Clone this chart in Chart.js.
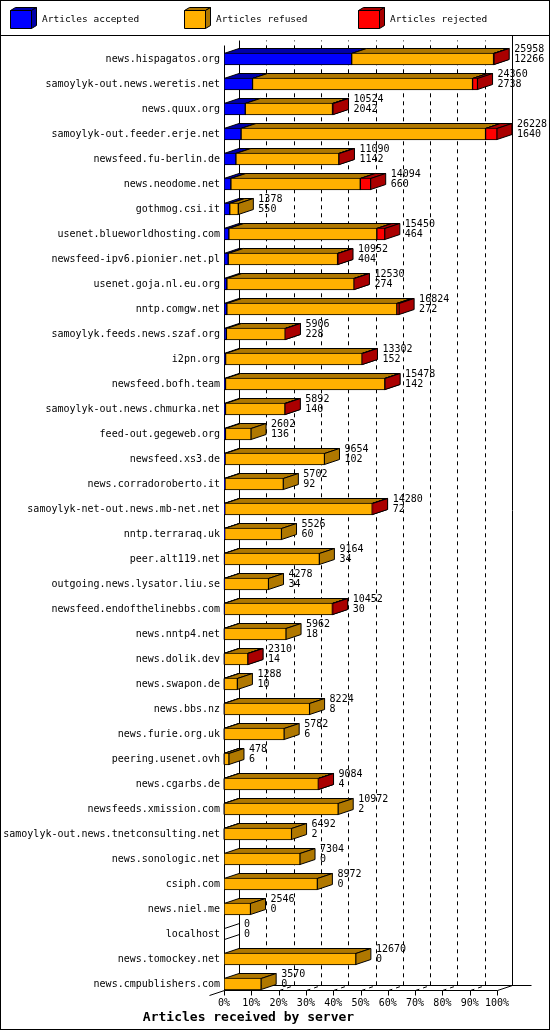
<!DOCTYPE html>
<html>
<head>
<meta charset="utf-8">
<script src="https://cdn.jsdelivr.net/npm/chart.js@4.4.1/dist/chart.umd.min.js"></script>
<style>
  html, body { margin: 0; padding: 0; background: #fff; }
  canvas { display: block; }
</style>
</head>
<body>
<canvas id="feedChart" width="550" height="1030"></canvas>
<script>
// Servers, top to bottom
const hosts = [
  'news.hispagatos.org', 'samoylyk-out.news.weretis.net', 'news.quux.org',
  'samoylyk-out.feeder.erje.net', 'newsfeed.fu-berlin.de', 'news.neodome.net',
  'gothmog.csi.it', 'usenet.blueworldhosting.com', 'newsfeed-ipv6.pionier.net.pl',
  'usenet.goja.nl.eu.org', 'nntp.comgw.net', 'samoylyk.feeds.news.szaf.org',
  'i2pn.org', 'newsfeed.bofh.team', 'samoylyk-out.news.chmurka.net',
  'feed-out.gegeweb.org', 'newsfeed.xs3.de', 'news.corradoroberto.it',
  'samoylyk-net-out.news.mb-net.net', 'nntp.terraraq.uk', 'peer.alt119.net',
  'outgoing.news.lysator.liu.se', 'newsfeed.endofthelinebbs.com', 'news.nntp4.net',
  'news.dolik.dev', 'news.swapon.de', 'news.bbs.nz', 'news.furie.org.uk',
  'peering.usenet.ovh', 'news.cgarbs.de', 'newsfeeds.xmission.com',
  'samoylyk-out.news.tnetconsulting.net', 'news.sonologic.net', 'csiph.com',
  'news.niel.me', 'localhost', 'news.tomockey.net', 'news.cmpublishers.com'
];

// Articles offered (first number beside each bar)
const totalArticles = [
  25958, 24360, 10524, 26228, 11090, 14094, 1378, 15450, 10952, 12530,
  16824, 5906, 13302, 15478, 5892, 2602, 9654, 5702, 14280, 5526,
  9164, 4278, 10452, 5962, 2310, 1288, 8224, 5782, 478, 9084,
  10972, 6492, 7304, 8972, 2546, 0, 12670, 3570
];

// Articles accepted (second number beside each bar)
const acceptedArticles = [
  12266, 2738, 2042, 1640, 1142, 660, 550, 464, 404, 274,
  272, 228, 152, 142, 140, 136, 102, 92, 72, 60,
  34, 34, 30, 18, 14, 10, 8, 6, 6, 4,
  2, 2, 0, 0, 0, 0, 0, 0
];

// Articles rejected (estimated from the red parts)
const rejectedArticles = [
  60, 480, 100, 1100, 60, 1000, 0, 770, 40, 40,
  220, 30, 40, 30, 40, 0, 0, 0, 40, 0,
  0, 0, 40, 0, 20, 0, 0, 0, 0, 20,
  0, 0, 0, 0, 0, 0, 0, 0
];

const refusedArticles = totalArticles.map((t, i) => t - acceptedArticles[i] - rejectedArticles[i]);

const maxTotal = Math.max(...totalArticles);
const toPercent = v => v / maxTotal * 100;

// 3D look
const DX = 15;
const DY = 5;
const BAR = 12;
const darkColors = ['#0000AA', '#B07800', '#AA0000'];
const legendX = [10, 184, 358];
const FONT = 'DejaVu Sans Mono';

Chart.defaults.font.family = FONT;
Chart.defaults.color = '#000';

function poly(ctx, pts, fill) {
  ctx.beginPath();
  pts.forEach((p, i) => i ? ctx.lineTo(p[0], p[1]) : ctx.moveTo(p[0], p[1]));
  ctx.closePath();
  if (fill) {
    ctx.fillStyle = fill;
    ctx.fill();
  }
  ctx.stroke();
}

function line(ctx, pts) {
  ctx.beginPath();
  pts.forEach((p, i) => i ? ctx.lineTo(p[0], p[1]) : ctx.moveTo(p[0], p[1]));
  ctx.stroke();
}

const depthPlugin = {
  id: 'depth3d',
  beforeDraw(chart) {
    const ctx = chart.ctx;
    ctx.save();
    ctx.fillStyle = '#fff';
    ctx.fillRect(0, 0, chart.width, chart.height);
    ctx.restore();
  },
  beforeDatasetsDraw(chart) {
    const ctx = chart.ctx;
    const xs = chart.scales.x;
    const ys = chart.scales.y;
    const n = hosts.length;
    const x0 = Math.round(xs.getPixelForValue(0)) + 0.5;
    const x100 = Math.round(xs.getPixelForValue(100)) + 0.5;
    const yFront = Math.round(ys.getPixelForValue(n - 1) + BAR / 2) + 0.5;
    const yBack = yFront - DY;
    const topFront = Math.round(ys.getPixelForValue(0) - BAR / 2 - 8) + 0.5;
    const topBack = topFront - DY;

    ctx.save();
    ctx.lineWidth = 1;
    ctx.strokeStyle = '#000';

    // dashed grid, running from the front tick to the back wall
    ctx.setLineDash([4, 4]);
    xs.ticks.forEach(t => {
      if (t.value === 0 || t.value === 100) return;
      const px = Math.round(xs.getPixelForValue(t.value)) + 0.5;
      line(ctx, [[px, yFront], [px + DX, yBack], [px + DX, topBack]]);
    });
    ctx.setLineDash([]);

    // back walls
    line(ctx, [[x0 + DX, topBack], [x0 + DX, yBack], [x100 + DX + 19, yBack]]);
    line(ctx, [[x100 + DX, 35.5], [x100 + DX, yBack]]);

    // front axes
    line(ctx, [[x0, topFront], [x0, yFront], [x100, yFront], [x100 + DX, yBack]]);
    line(ctx, [[x0, yFront], [x0 - DX, yFront + DY]]);
    xs.ticks.forEach(t => {
      const px = Math.round(xs.getPixelForValue(t.value)) + 0.5;
      line(ctx, [[px, yFront], [px, yFront + 5]]);
    });

    // top and side faces of every bar segment
    chart.data.datasets.forEach((ds, di) => {
      const meta = chart.getDatasetMeta(di);
      meta.data.forEach(el => {
        const p = el.getProps(['x', 'y', 'base', 'height'], true);
        const x1 = Math.min(p.x, p.base);
        const x2 = Math.max(p.x, p.base);
        if (x2 - x1 < 0.01) return;
        const top = Math.round(p.y - p.height / 2) + 0.5;
        const bottom = Math.round(p.y + p.height / 2) - 0.5;
        poly(ctx, [[x1, top], [x2, top], [x2 + DX, top - DY], [x1 + DX, top - DY]], darkColors[di]);
        poly(ctx, [[x2, top], [x2 + DX, top - DY], [x2 + DX, bottom - DY], [x2, bottom]], darkColors[di]);
      });
    });

    // empty rows still get the outline of a side face
    totalArticles.forEach((t, i) => {
      if (t > 0) return;
      const cy = ys.getPixelForValue(i);
      const top = Math.round(cy - BAR / 2) + 0.5;
      const bottom = Math.round(cy + BAR / 2) - 0.5;
      line(ctx, [[x0, top], [x0 + DX, top - DY]]);
      line(ctx, [[x0, bottom], [x0 + DX, bottom - DY]]);
    });
    ctx.restore();
  },
  afterDatasetsDraw(chart) {
    const ctx = chart.ctx;
    const xs = chart.scales.x;
    const ys = chart.scales.y;
    ctx.save();
    ctx.font = '10px ' + FONT;
    ctx.fillStyle = '#000';
    ctx.textBaseline = 'middle';
    ctx.textAlign = 'left';
    hosts.forEach((h, i) => {
      const xe = xs.getPixelForValue(toPercent(totalArticles[i]));
      const cy = ys.getPixelForValue(i);
      ctx.fillText(String(totalArticles[i]), xe + DX + 5, cy - 9.5);
      ctx.fillText(String(acceptedArticles[i]), xe + DX + 5, cy + 0.5);
    });
    ctx.restore();
  },
  afterDraw(chart) {
    const ctx = chart.ctx;
    ctx.save();
    ctx.lineWidth = 1;
    ctx.strokeStyle = '#000';

    // legend with little 3D boxes
    chart.data.datasets.forEach((ds, i) => {
      const bx = legendX[i] + 0.5;
      const by = 10.5;
      poly(ctx, [[bx, by], [bx + 21, by], [bx + 26, by - 3], [bx + 5, by - 3]], darkColors[i]);
      poly(ctx, [[bx + 21, by], [bx + 26, by - 3], [bx + 26, by + 15], [bx + 21, by + 18]], darkColors[i]);
      poly(ctx, [[bx, by], [bx + 21, by], [bx + 21, by + 18], [bx, by + 18]], ds.backgroundColor);
      ctx.fillStyle = '#000';
      ctx.font = '9.5px ' + FONT;
      ctx.textBaseline = 'middle';
      ctx.fillText(ds.label, legendX[i] + 32, 20);
    });

    line(ctx, [[0, 35.5], [chart.width, 35.5]]);
    ctx.strokeRect(0.5, 0.5, chart.width - 1, chart.height - 1);
    ctx.restore();
  }
};

const ctx = document.getElementById('feedChart').getContext('2d');
const feedChart = new Chart(ctx, {
  type: 'bar',
  data: {
    labels: hosts,
    datasets: [
      {
        label: 'Articles accepted',
        data: acceptedArticles.map(toPercent),
        backgroundColor: '#0000FF'
      },
      {
        label: 'Articles refused',
        data: refusedArticles.map(toPercent),
        backgroundColor: '#FFB000'
      },
      {
        label: 'Articles rejected',
        data: rejectedArticles.map(toPercent),
        backgroundColor: '#FF0000'
      }
    ]
  },
  options: {
    indexAxis: 'y',
    responsive: false,
    animation: false,
    layout: {
      padding: { left: 0, right: 53, top: 46.5, bottom: 5 }
    },
    datasets: {
      bar: {
        barThickness: BAR,
        borderColor: '#000',
        borderWidth: 1,
        borderSkipped: false
      }
    },
    plugins: {
      legend: { display: false },
      tooltip: { enabled: true },
      title: {
        display: true,
        position: 'bottom',
        text: 'Articles received by server',
        color: '#000',
        padding: 0,
        font: { family: FONT, size: 13, weight: 'bold' }
      }
    },
    scales: {
      x: {
        stacked: true,
        min: 0,
        max: 100,
        grid: { display: false, drawTicks: false },
        border: { display: false },
        ticks: {
          stepSize: 10,
          padding: 1,
          maxRotation: 0,
          color: '#000',
          font: { family: FONT, size: 10 },
          callback: v => v + '%'
        },
        afterFit(scale) {
          scale.height = 12.9;
        }
      },
      y: {
        stacked: true,
        grid: { display: false, drawTicks: false },
        border: { display: false },
        ticks: {
          autoSkip: false,
          padding: 4,
          color: '#000',
          font: { family: FONT, size: 10 }
        },
        afterFit(scale) {
          scale.width = 224;
        }
      }
    }
  },
  plugins: [depthPlugin]
});
</script>
</body>
</html>
